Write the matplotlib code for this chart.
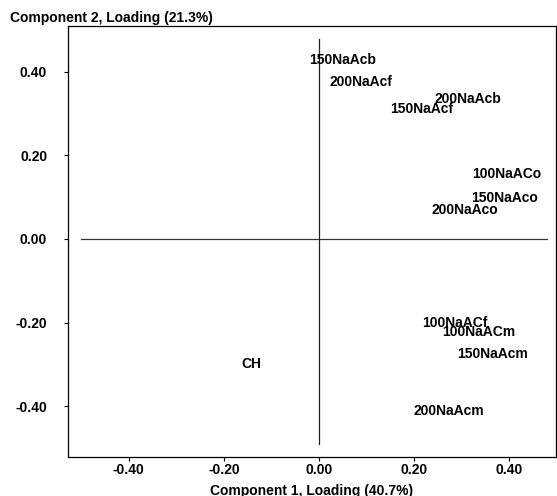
import matplotlib
matplotlib.use("Agg")
import matplotlib.pyplot as plt

plt.rcParams['font.family'] = ['Liberation Sans', 'DejaVu Sans']
plt.rcParams['font.weight'] = 'bold'

# loadings (component 1, component 2)
labels = ['150NaAcb', '200NaAcf', '200NaAcb', '150NaAcf', '100NaACo', '150NaAco',
          '200NaAco', '100NaACf', '100NaACm', '150NaAcm', '200NaAcm', 'CH']
comp1 = [-0.021, 0.023, 0.244, 0.149, 0.322, 0.320, 0.238, 0.217, 0.259, 0.291, 0.200, -0.164]
comp2 = [0.429, 0.376, 0.335, 0.311, 0.156, 0.098, 0.069, -0.201, -0.223, -0.275, -0.412, -0.299]

xticks = [-0.40, -0.20, 0.00, 0.20, 0.40]
yticks = [0.40, 0.20, 0.00, -0.20, -0.40]

fig = plt.figure(figsize=(5.57, 4.96), dpi=100)
ax = fig.add_axes([68 / 557, 1 - 457 / 496, (556 - 68) / 557, (457 - 26) / 496])
ax.set_xlim(-0.528, 0.499)
ax.set_ylim(-0.522, 0.510)

# reference cross
ax.plot([-0.50, 0.48], [0, 0], color='#333333', lw=0.9)
ax.plot([0, 0], [-0.49, 0.48], color='#222222', lw=0.9)

for lab, x, y in zip(labels, comp1, comp2):
    ax.text(x, y, lab, fontsize=10, fontweight='bold', ha='left', va='center')

ax.set_xticks(xticks)
ax.set_xticklabels([f'{v:.2f}' for v in xticks])
ax.set_yticks(yticks)
ax.set_yticklabels([f'{v:.2f}' for v in yticks])
ax.tick_params(axis='both', length=3, width=0.8, labelsize=10, direction='out')
ax.tick_params(axis='y', pad=12)
ax.tick_params(axis='x', pad=1)
for s in ax.spines.values():
    s.set_linewidth(0.9)

ax.set_xlabel('Component 1, Loading (40.7%)', fontsize=10, fontweight='bold', labelpad=5)
fig.text(10 / 557, 1 - 18 / 496, 'Component 2, Loading (21.3%)', fontsize=10,
         fontweight='bold', ha='left', va='center')

fig.savefig('out.png', dpi=100)
